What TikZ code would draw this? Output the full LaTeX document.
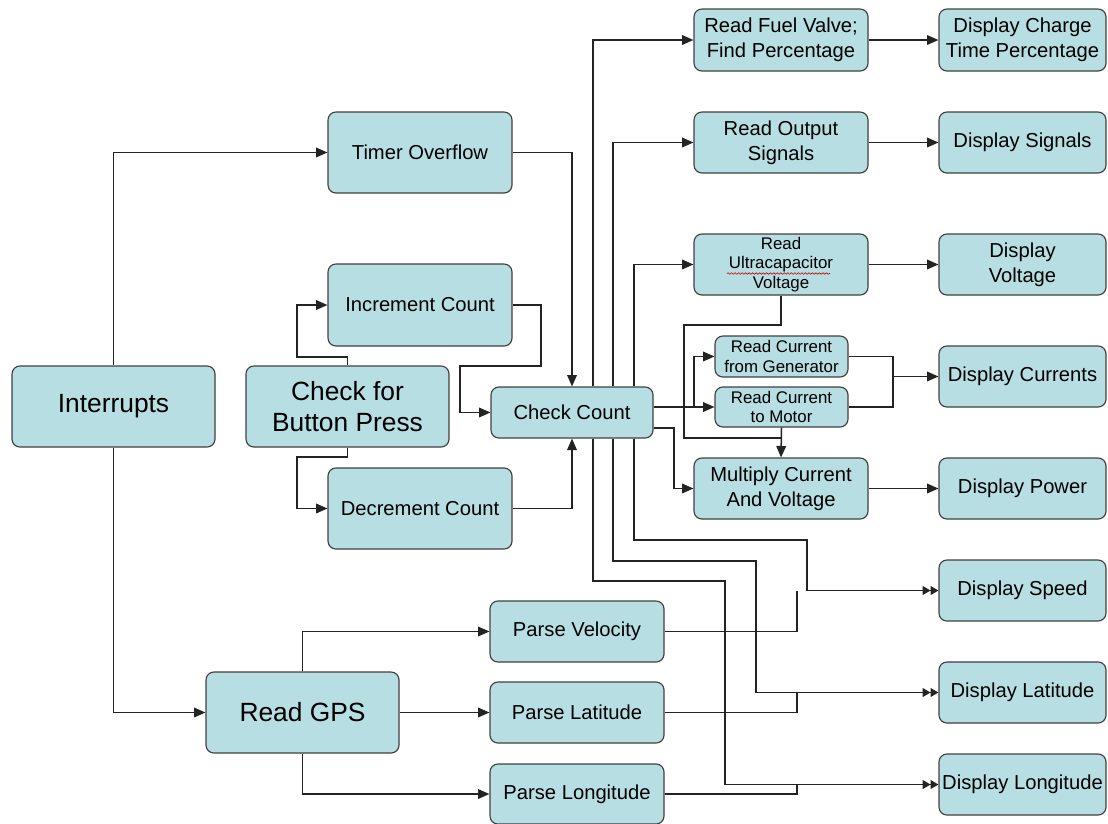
\documentclass[tikz,border=0pt]{standalone}
\usepackage{fontspec}
\setmainfont{Liberation Sans}
\usetikzlibrary{arrows.meta,decorations.pathmorphing}
\definecolor{boxfill}{RGB}{183,222,226}
\definecolor{boxline}{RGB}{64,64,64}
\definecolor{wirec}{RGB}{35,35,35}
\begin{document}
\begin{tikzpicture}[x=0.02cm,y=-0.02cm,
  blk/.style={draw=boxline, fill=boxfill, line width=0.65pt, rounded corners=4.5pt, align=center, inner sep=0pt, font=\fontsize{11.5}{14}\selectfont},
  big/.style={font=\fontsize{15}{18}\selectfont},
  small/.style={font=\fontsize{9.6}{11.3}\selectfont},
  sz/.style 2 args={minimum width={#1*0.02cm}, minimum height={#2*0.02cm}},
  wire/.style={draw=wirec, line width=0.85pt},
  arr/.style={wire, -{Triangle[length=6.5pt,width=5.5pt]}},
  arrtwo/.style={wire, -{Triangle[length=4.5pt,width=5pt]Triangle[length=4.5pt,width=5pt]}},
]
\useasboundingbox (0,0) rectangle (1108,823);

% left part
\node[blk,big,sz={203}{81}] (intr) at (113.5,406.5) {Interrupts};
\node[blk,sz={184}{81}] (timer) at (420,152.5) {Timer Overflow};
\node[blk,sz={184}{82}] (inc) at (420,305) {Increment Count};
\node[blk,big,sz={203}{81}] (btn) at (347.5,406.5) {Check for\\Button Press};
\node[blk,sz={184}{81}] (dec) at (420,508.5) {Decrement Count};
\node[blk,sz={162}{51}] (cc) at (572,412.5) {Check Count};
\node[blk,big,sz={193}{81}] (gps) at (302.5,712.5) {Read GPS};

% middle column
\node[blk,sz={174}{62}] (fuel) at (781,40) {Read Fuel Valve;\\Find Percentage};
\node[blk,sz={174}{61}] (outsig) at (781,142.5) {Read Output\\Signals};
\node[blk,small,sz={174}{61}] (ucap) at (781,264.5) {Read\\Ultracapacitor\\Voltage};
\node[blk,small,sz={133}{41}] (gen) at (781.5,356.5) {Read Current\\from Generator};
\node[blk,small,sz={133}{40}] (motor) at (781.5,407) {Read Current\\to Motor};
\node[blk,sz={174}{61}] (mult) at (781,488.5) {Multiply Current\\And Voltage};
\node[blk,sz={174}{61}] (pvel) at (577,631.5) {Parse Velocity};
\node[blk,sz={174}{61}] (plat) at (577,712.5) {Parse Latitude};
\node[blk,sz={174}{60}] (plon) at (577,794) {Parse Longitude};

% display column
\node[blk,sz={167}{62}] (dcharge) at (1022.5,40) {Display Charge\\Time Percentage};
\node[blk,sz={167}{61}] (dsig) at (1022.5,142.5) {Display Signals};
\node[blk,sz={167}{61}] (dvolt) at (1022.5,264.5) {Display\\Voltage};
\node[blk,sz={167}{61}] (dcurr) at (1022.5,376.5) {Display Currents};
\node[blk,sz={167}{61}] (dpower) at (1022.5,488.5) {Display Power};
\node[blk,sz={167}{61}] (dspeed) at (1022.5,590.5) {Display Speed};
\node[blk,sz={167}{61}] (dlat) at (1022.5,692.5) {Display Latitude};
\node[blk,sz={167}{61}] (dlon) at (1022.5,784.5) {Display Longitude};

% spell-check underline
\draw[red!80!black, line width=0.35pt, decorate, decoration={snake, amplitude=0.45pt, segment length=2pt}] (727,273.5) -- (830,273.5);

% connectors
\coordinate (xa) at (593,0);
\coordinate (xb) at (613,0);
\coordinate (xc) at (634,0);
\coordinate (xj) at (797,0);
\coordinate (bg) at (694,407);
\coordinate (jv) at (781,438);
\coordinate (jc) at (893,376.5);

\draw[arr] (intr.north) |- (timer.west);
\draw[arr] (intr.south) |- (gps.west);
\draw[arr] (timer.east) -| (cc.north);
\draw[arr] (btn.north) |- (297,357) |- (inc.west);
\draw[arr] (btn.south) |- (297,457) |- (dec.west);
\draw[arr] (inc.east) -| (541,366) -| (460,412.5) -- (cc.west);
\draw[arr] (dec.east) -| (cc.south);

\draw[arr] (cc.north -| xa) |- (fuel.west);
\draw[arr] (cc.north -| xb) |- (outsig.west);
\draw[arr] (cc.north -| xc) |- (ucap.west);
\draw[arrtwo] (cc.south -| xc) |- (807,540) |- (dspeed.west);
\draw[arrtwo] (cc.south -| xb) |- (756,561) |- (dlat.west);
\draw[arrtwo] (cc.south -| xa) |- (725,581) |- (dlon.west);

\draw[arr] (cc.east |- motor.west) -- (motor.west);
\draw[arr] (bg) |- (gen.west);
\draw[arr] ([yshift=-0.31cm]cc.east) -| (674,488.5) -- (mult.west);
\draw[wire] (ucap.south) |- (684,325) |- (jv);
\draw[arr] (motor.south) -- (mult.north);
\draw[wire] (gen.east) -| (jc);
\draw[wire] (motor.east) -| (jc);
\draw[arr] (jc) -- (dcurr.west);

\draw[arr] (fuel.east) -- (dcharge.west);
\draw[arr] (outsig.east) -- (dsig.west);
\draw[arr] (ucap.east) -- (dvolt.west);
\draw[arr] (mult.east) -- (dpower.west);

\draw[arr] (gps.north) |- (pvel.west);
\draw[arr] (gps.east) -- (plat.west);
\draw[arr] (gps.south) |- (plon.west);
\draw[wire] (pvel.east) -| (xj |- dspeed.west);
\draw[wire] (plat.east) -| (xj |- dlat.west);
\draw[wire] (plon.east) -| (xj |- dlon.west);
\end{tikzpicture}
\end{document}
